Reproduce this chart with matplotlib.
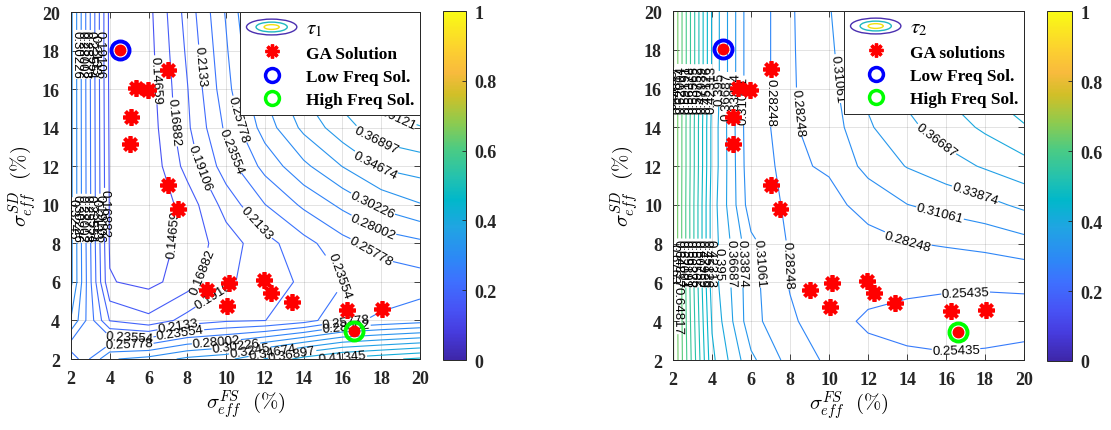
import numpy as np
import matplotlib
matplotlib.use("Agg")
import matplotlib.pyplot as plt
from matplotlib.colors import LinearSegmentedColormap, Normalize
from matplotlib.cm import ScalarMappable
from matplotlib.legend_handler import HandlerBase
from matplotlib.patches import Ellipse
from matplotlib.lines import Line2D

# grid of the contour maps (sigma_FS on x, sigma_SD on y, in %)
grid_x = [2, 4, 6, 8, 10, 12, 14, 16, 18, 20]
grid_y = [2, 4, 6, 8, 10, 12, 14, 16, 18, 20]

# tau_1, rows go from y=2 (bottom) to y=20 (top)
tau1 = np.array([
    [0.22, 0.30, 0.31, 0.33, 0.34, 0.37, 0.40, 0.42, 0.43, 0.44],
    [0.30, 0.19, 0.175, 0.20, 0.21, 0.213, 0.226, 0.252, 0.262, 0.270],
    [0.33, 0.148, 0.140, 0.158, 0.188, 0.200, 0.218, 0.2345, 0.244, 0.248],
    [0.33, 0.144, 0.132, 0.155, 0.180, 0.205, 0.228, 0.250, 0.267, 0.275],
    [0.33, 0.144, 0.128, 0.156, 0.200, 0.235, 0.262, 0.285, 0.308, 0.323],
    [0.33, 0.143, 0.130, 0.177, 0.225, 0.265, 0.297, 0.325, 0.350, 0.357],
    [0.33, 0.142, 0.133, 0.187, 0.240, 0.290, 0.330, 0.360, 0.382, 0.390],
    [0.33, 0.141, 0.136, 0.190, 0.250, 0.305, 0.350, 0.380, 0.405, 0.415],
    [0.33, 0.140, 0.138, 0.195, 0.255, 0.315, 0.365, 0.395, 0.420, 0.437],
    [0.33, 0.140, 0.140, 0.200, 0.260, 0.325, 0.375, 0.410, 0.435, 0.455],
])

# tau_2
tau2 = np.array([
    [0.68, 0.43, 0.345, 0.30, 0.277, 0.262, 0.258, 0.257, 0.258, 0.260],
    [0.68, 0.42, 0.32, 0.288, 0.262, 0.251, 0.248, 0.245, 0.246, 0.248],
    [0.68, 0.41, 0.32, 0.28, 0.265, 0.262, 0.259, 0.258, 0.257, 0.257],
    [0.68, 0.41, 0.318, 0.279, 0.27, 0.275, 0.281, 0.285, 0.29, 0.30],
    [0.68, 0.41, 0.294, 0.279, 0.276, 0.29, 0.31, 0.32, 0.33, 0.345],
    [0.68, 0.415, 0.288, 0.279, 0.285, 0.32, 0.34, 0.355, 0.37, 0.385],
    [0.68, 0.415, 0.286, 0.279, 0.295, 0.335, 0.36, 0.38, 0.40, 0.42],
    [0.68, 0.42, 0.286, 0.279, 0.30, 0.345, 0.375, 0.40, 0.425, 0.45],
    [0.68, 0.42, 0.286, 0.279, 0.304, 0.35, 0.385, 0.415, 0.445, 0.48],
    [0.68, 0.42, 0.286, 0.279, 0.308, 0.355, 0.395, 0.43, 0.46, 0.51],
])

tau1_levels = [0.12435, 0.14659, 0.16882, 0.19106, 0.2133, 0.23554, 0.25778,
               0.28002, 0.30226, 0.3245, 0.34674, 0.36897, 0.39121, 0.41345,
               0.43569, 0.45793]
tau2_levels = [0.25435, 0.28248, 0.31061, 0.33874, 0.36687, 0.395, 0.42313,
               0.45126, 0.47939, 0.50752, 0.53565, 0.56378, 0.59191, 0.62004,
               0.64817, 0.6763]

# GA solutions (same points on both maps)
ga_x = [7.0, 5.35, 5.95, 5.1, 5.05, 7.0, 7.5, 9.0, 10.15, 10.05, 11.95, 12.3, 13.4, 16.25, 18.05]
ga_y = [17.0, 16.05, 15.95, 14.55, 13.15, 11.05, 9.8, 5.6, 5.95, 4.75, 6.1, 5.45, 4.95, 4.55, 4.6]
low_freq = (4.55, 18.05)
high_freq = (16.6, 3.45)

# where the contour labels sit on each map
tau1_label_xy = [
    (2.3, 17.8), (2.55, 17.8), (2.8, 17.8), (3.05, 17.8), (3.3, 17.8), (3.55, 17.8),
    (2.1, 9.3), (2.35, 9.3), (2.6, 9.3), (2.85, 9.3), (3.1, 9.3), (3.35, 9.3),
    (3.6, 9.3), (3.85, 9.6),
    (6.7, 16.5), (7.3, 8.5), (7.5, 14.3), (8.4, 6.6), (8.8, 12.0), (9.6, 5.2),
    (8.5, 17.2), (11.2, 8.7), (7.5, 3.9), (10.3, 12.8), (15.8, 6.3), (7.6, 3.5),
    (11.0, 14.5), (17.5, 7.6), (5.0, 3.1), (16.2, 4.0), (17.5, 8.7), (5.0, 2.7),
    (16.2, 3.6), (17.5, 9.9), (9.5, 2.9), (10.5, 2.7), (17.5, 11.8), (11.2, 2.6),
    (17.5, 13.0), (12.4, 2.4), (18.6, 14.5), (13.4, 2.3), (16.0, 2.2),
]
tau2_label_xy = [
    (2.1, 16.0), (2.3, 16.0), (2.5, 16.0), (2.7, 16.0), (2.9, 16.0), (3.1, 16.0),
    (3.3, 16.0), (3.5, 16.0), (3.7, 16.0), (3.9, 16.0), (4.2, 16.0), (4.5, 15.6),
    (5.0, 15.6), (5.6, 15.4),
    (2.1, 7.0), (2.3, 7.0), (2.5, 7.0), (2.7, 7.0), (2.9, 7.0), (3.1, 7.0),
    (3.3, 7.0), (3.5, 7.0), (3.7, 7.0), (3.9, 7.0), (4.2, 7.0), (4.8, 7.0),
    (5.5, 7.0), (6.4, 7.0), (7.8, 6.9), (2.15, 4.6),
    (7.1, 15.3), (8.6, 14.8), (10.3, 16.5), (16.0, 14.0), (17.5, 10.6),
    (15.5, 8.9), (14.0, 8.0), (17.0, 5.6), (16.5, 2.6),
]

# parula (MATLAB R2014b) sampled
parula = LinearSegmentedColormap.from_list("parula", [
    (0.000, (0.2422, 0.1504, 0.6603)),
    (0.079, (0.2751, 0.2342, 0.8710)),
    (0.143, (0.2810, 0.3228, 0.9579)),
    (0.222, (0.2440, 0.4358, 0.9988)),
    (0.286, (0.1786, 0.5289, 0.9682)),
    (0.381, (0.1248, 0.6459, 0.8883)),
    (0.460, (0.0036, 0.7203, 0.7917)),
    (0.524, (0.1408, 0.7584, 0.6842)),
    (0.603, (0.2906, 0.7973, 0.5188)),
    (0.683, (0.5616, 0.7942, 0.3045)),
    (0.762, (0.8203, 0.7498, 0.1535)),
    (0.825, (0.9728, 0.7298, 0.2394)),
    (0.889, (0.9892, 0.8136, 0.1885)),
    (1.000, (0.9769, 0.9839, 0.0805)),
])

plt.rcParams["font.family"] = "Liberation Serif"
plt.rcParams["mathtext.fontset"] = "cm"


class ContourIcon(HandlerBase):
    def create_artists(self, legend, orig_handle, xdescent, ydescent,
                       width, height, fontsize, trans):
        cx = 0.5 * width - xdescent
        cy = 0.5 * height - ydescent
        out = []
        for f, c in [(1.0, "#4a2fb0"), (0.62, "#20b8c0"), (0.3, "#f0e010")]:
            out.append(Ellipse((cx, cy), width * f, height * 1.3 * f, fill=False,
                               edgecolor=c, lw=1.0, transform=trans))
        return out


def draw_map(ax_rect, cb_rect, z, levels, label_xy, tau_name, ga_name):
    ax = fig.add_axes(ax_rect)
    ax.set_xlim(2, 20)
    ax.set_ylim(2, 20)
    cs = ax.contour(grid_x, grid_y, z, levels=levels, cmap=parula,
                    norm=Normalize(0, 1), linewidths=0.8)
    lbl = ax.clabel(cs, fmt="%.5g", fontsize=9.5, inline=True,
                    inline_spacing=3, colors="k", manual=label_xy)
    for t in lbl:
        t.set_fontfamily("Liberation Sans")

    ax.plot(ga_x, ga_y, ls="none", marker=(8, 2, 0), ms=12, mew=2.7,
            color="#ff0000", zorder=5)
    for (px, py), col in [(low_freq, "#0000ff"), (high_freq, "#00ff00")]:
        ax.plot(px, py, "o", ms=13, mfc="none", mec=col, mew=2.8, zorder=6)
        ax.plot(px, py, "o", ms=7.5, color="#ff0000", zorder=7)

    ax.set_xticks(range(2, 21, 2))
    ax.set_yticks(range(2, 21, 2))
    ax.tick_params(direction="in", top=True, right=True, length=4,
                   width=0.6, labelsize=13, colors="#262626", pad=8)
    for t in ax.get_xticklabels() + ax.get_yticklabels():
        t.set_fontweight("bold")
    ax.grid(True, color="#262626", alpha=0.15, lw=0.6)
    for s in ax.spines.values():
        s.set_color("#262626")
        s.set_linewidth(0.7)
    ax.set_xlabel(r"$\sigma^{FS}_{eff}\ \ (\%)$", fontsize=15, labelpad=0)
    ax.set_ylabel(r"$\sigma^{SD}_{eff}\ \ (\%)$", fontsize=15, labelpad=2)

    handles = [
        Line2D([], []),
        Line2D([], [], ls="none", marker=(8, 2, 0), ms=10, mew=2.4, color="#ff0000"),
        Line2D([], [], ls="none", marker="o", ms=10, mfc="none", mec="#0000ff", mew=2.5),
        Line2D([], [], ls="none", marker="o", ms=10, mfc="none", mec="#00ff00", mew=2.5),
    ]
    labels = [tau_name, ga_name, "Low Freq Sol.", "High Freq Sol."]
    leg = ax.legend(handles, labels, loc="upper right", handler_map={handles[0]: ContourIcon()},
                    fancybox=False, framealpha=1, edgecolor="#262626",
                    borderaxespad=0.0, handlelength=2.9, handletextpad=0.5,
                    labelspacing=0.42, borderpad=0.35,
                    prop={"family": "Liberation Serif", "weight": "bold", "size": 12.5})
    leg.get_frame().set_linewidth(0.7)
    leg.get_texts()[0].set_math_fontfamily("stix")
    leg.get_texts()[0].set_fontsize(15)
    leg.set_zorder(10)

    cax = fig.add_axes(cb_rect)
    cb = fig.colorbar(ScalarMappable(norm=Normalize(0, 1), cmap=parula), cax=cax)
    cb.set_ticks([0, 0.2, 0.4, 0.6, 0.8, 1])
    cb.set_ticklabels(["0", "0.2", "0.4", "0.6", "0.8", "1"])
    cax.tick_params(direction="in", length=3, width=0.6, labelsize=13,
                    colors="#262626", pad=6)
    for t in cax.get_yticklabels():
        t.set_fontweight("bold")
    cb.outline.set_edgecolor("#262626")
    cb.outline.set_linewidth(0.7)
    return ax


fig = plt.figure(figsize=(11.11, 4.31), dpi=100)
draw_map([0.0639, 0.1647, 0.3141, 0.8051], [0.3987, 0.1624, 0.0207, 0.8097],
         tau1, tau1_levels, tau1_label_xy, r"$\tau_1$", "GA Solution")
draw_map([0.6058, 0.1624, 0.3159, 0.8097], [0.9424, 0.1601, 0.0225, 0.812],
         tau2, tau2_levels, tau2_label_xy, r"$\tau_2$", "GA solutions")

fig.savefig("out.png", dpi=100)
